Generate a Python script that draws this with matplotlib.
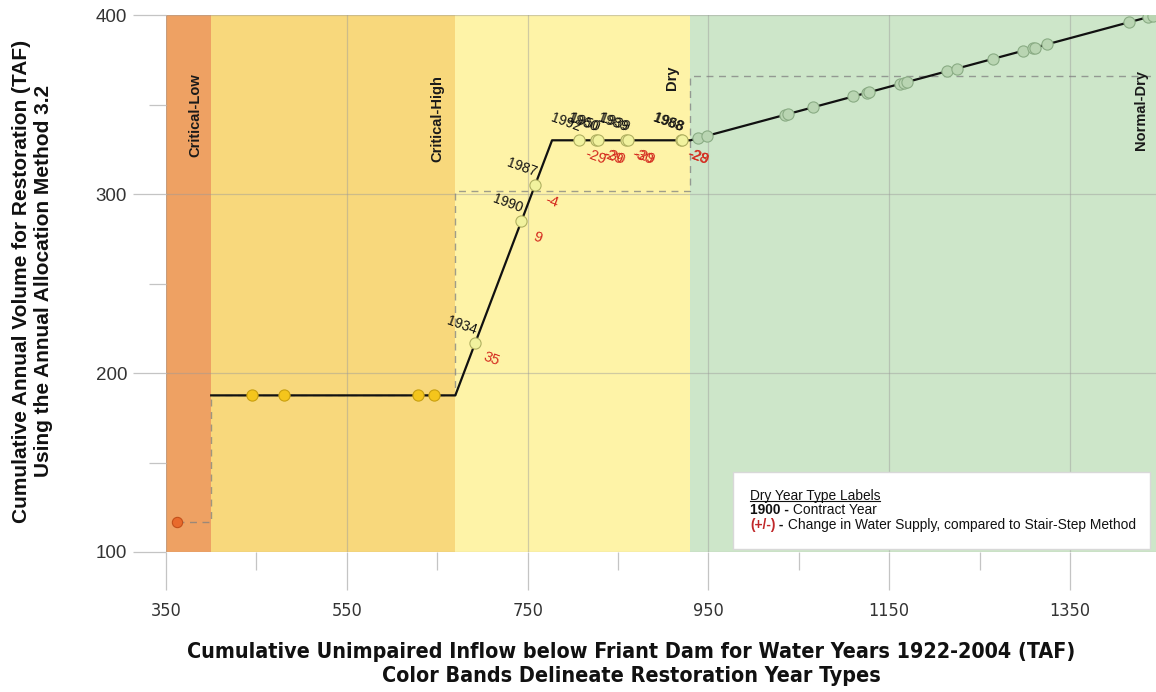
import matplotlib
matplotlib.use("Agg")
import matplotlib.pyplot as plt
from matplotlib import font_manager as fm
from matplotlib.patches import Rectangle
from matplotlib.lines import Line2D

# Restoration year-type bands (TAF of unimpaired inflow)
band_names = ["Critical-Low", "Critical-High", "Dry", "Normal-Dry"]
band_edges = [350, 400, 670, 930, 1445]
band_colors = ["#EEA163", "#F8D87C", "#FEF3A7", "#CDE6C9"]
band_label_x = [382, 650, 910, 1428]
band_label_y = [320.5, 318, 358, 324.5]

# Annual allocation method 3.2 curve
method_x = [400, 670, 777, 930, 1445]
method_y = [187.5, 187.5, 330, 330, 400]

# Stair-step method
stair_x = [362.5, 400, 400, 670, 670, 930, 930, 1445]
stair_y = [116.6, 116.6, 187.5, 187.5, 301.7, 301.7, 366, 366]

# Water years by type
cl_x = [362.5]
cl_y = [116.6]

ch_x = [445, 480.5, 629, 646.5]
ch_y = [187.5, 187.5, 187.5, 187.5]

dry_x = [692, 743, 758, 807, 826, 828, 859, 861, 920, 921]
dry_y = [217, 285, 305, 330, 330, 330, 330, 330, 330, 330]
dry_years = ["1934", "1990", "1987", "1992", "1960", "1950", "1989", "1939", "1988", "1968"]
dry_change = ["35", "9", "-4", "-29", "-29", "-30", "-30", "-29", "-28", "-29"]

nd_x = [938.5, 948.5, 1034.7, 1038, 1065.7, 1110, 1125.4, 1127.7, 1162, 1166, 1169.7,
        1214, 1225, 1264.8, 1298, 1309, 1311, 1324.6, 1415, 1436, 1442]
nd_y = [331.2, 332.5, 344.2, 344.7, 348.5, 354.5, 356.6, 356.9, 361.5, 362.1, 362.6,
        368.6, 370.1, 375.5, 380, 381.5, 381.8, 383.6, 395.9, 398.7, 399.5]

x_major = [350, 550, 750, 950, 1150, 1350]
x_minor = [450, 650, 850, 1050, 1250]
y_major = [100, 200, 300, 400]
y_minor = [150, 250, 350]

W, H = 1156, 692
SANS = ["Liberation Sans", "DejaVu Sans"]

# pick a condensed face for the x-axis texts when one is available
installed = fm.fontManager.ttflist
names = {f.name for f in installed}
if "Liberation Sans Narrow" in names:
    narrow_kw = dict(family=["Liberation Sans Narrow", "DejaVu Sans"])
    xlab_size, xtick_size = 17.5, 14.5
elif any(f.name == "DejaVu Sans" and "condensed" in str(f.stretch) for f in installed):
    narrow_kw = dict(family=["DejaVu Sans"], stretch="condensed")
    xlab_size, xtick_size = 15.4, 13
else:
    narrow_kw = dict(family=SANS)
    xlab_size, xtick_size = 16.5, 13

fig = plt.figure(figsize=(W / 100, H / 100), dpi=100)
ax = fig.add_axes([166 / W, 1 - 552 / H, (W - 166) / W, (552 - 15) / H])
ax.set_xlim(band_edges[0], band_edges[-1])
ax.set_ylim(100, 400)

for i in range(len(band_names)):
    ax.axvspan(band_edges[i], band_edges[i + 1], color=band_colors[i], zorder=0.5, lw=0)
    ax.text(band_label_x[i], band_label_y[i], band_names[i], rotation=90,
            ha="center", va="bottom", fontsize=10.5, fontweight="bold",
            family=SANS, color="#1a1a1a", zorder=5)

for s in ax.spines.values():
    s.set_visible(False)

ax.set_xticks(x_major)
ax.set_xticks(x_minor, minor=True)
ax.set_yticks(y_major)
ax.set_yticks(y_minor, minor=True)
ax.grid(True, which="major", color="#9a9a9a", alpha=0.45, lw=0.9)
ax.tick_params(axis="x", which="major", length=27, width=0.9, color="#c4c4c4",
               pad=9, labelsize=xtick_size, labelcolor="#333333")
ax.tick_params(axis="x", which="minor", length=13, width=0.9, color="#c4c4c4")
ax.tick_params(axis="y", which="major", length=24, width=0.9, color="#c4c4c4",
               pad=4, labelsize=13.5, labelcolor="#333333")
ax.tick_params(axis="y", which="minor", length=12, width=0.9, color="#c4c4c4")
for lab in ax.get_xticklabels():
    lab.set(**narrow_kw)
for lab in ax.get_yticklabels():
    lab.set_family(SANS)

# stair-step reference and allocation curve
ax.plot(stair_x, stair_y, color="#808080", lw=1.0, alpha=0.75, dashes=(5, 4), zorder=2)
ax.plot(method_x, method_y, color="#111111", lw=1.6, zorder=3)

ax.scatter(cl_x, cl_y, s=55, color="#E86A2C", edgecolor="#C4501A", lw=0.8, zorder=4)
ax.scatter(ch_x, ch_y, s=65, color="#F4C51C", edgecolor="#C9A010", lw=0.8, zorder=4)
ax.scatter(dry_x, dry_y, s=65, color="#F1F29E", edgecolor="#B0B060", lw=0.8, zorder=4)
ax.scatter(nd_x, nd_y, s=65, color="#B9D5B2", edgecolor="#8AAC84", lw=0.8, zorder=4)

for x, y, yr, ch in zip(dry_x, dry_y, dry_years, dry_change):
    ax.annotate(yr, (x, y), xytext=(-9.5, 12.5), textcoords="offset points",
                rotation=-20, ha="center", va="center", fontsize=10,
                family=SANS, color="#111111", zorder=6)
    ax.annotate(ch, (x, y), xytext=(12, -12), textcoords="offset points",
                rotation=-20, ha="center", va="center", fontsize=10.5,
                family=SANS, color="#D42A1E", zorder=6)

# legend box for label meanings
box = Rectangle(((733 - 166) / (W - 166), 3 / 537), (1150 - 733) / (W - 166), 77 / 537,
                transform=ax.transAxes, facecolor="white", edgecolor="#d8d8d8",
                lw=1.0, zorder=7)
ax.add_patch(box)

renderer = fig.canvas.get_renderer()


def seq_text(x_px, y_px, pieces):
    x = x_px
    out = []
    for txt, kw in pieces:
        t = fig.text(x / W, 1 - y_px / H, txt, ha="left", va="center",
                     fontsize=9.9, family=SANS, zorder=8, **kw)
        bb = t.get_window_extent(renderer)
        x = bb.x1
        out.append(t)
    return out


title_t = seq_text(750, 496, [("Dry Year Type Labels", {"color": "#111111"})])[0]
bb = title_t.get_window_extent(renderer)
fig.add_artist(Line2D([bb.x0 / W, bb.x1 / W], [(bb.y0 + 2) / H, (bb.y0 + 2) / H],
                      color="#111111", lw=0.8, zorder=8))
seq_text(750, 510, [("1900 -", {"fontweight": "bold", "color": "#111111"}),
                    (" Contract Year", {"color": "#111111"})])
seq_text(750, 525, [("(+/-)", {"fontweight": "bold", "color": "#C0282A"}),
                    (" -", {"fontweight": "bold", "color": "#111111"}),
                    (" Change in Water Supply, compared to Stair-Step Method",
                     {"color": "#111111"})])

fig.text(32.5 / W, 1 - 281 / H,
         "Cumulative Annual Volume for Restoration (TAF)\nUsing the Annual Allocation Method 3.2",
         rotation=90, ha="center", va="center", multialignment="center",
         fontsize=15, fontweight="bold", family=SANS, color="#111111",
         linespacing=1.22)
fig.text(631 / W, 1 - 664 / H,
         "Cumulative Unimpaired Inflow below Friant Dam for Water Years 1922-2004 (TAF)\n"
         "Color Bands Delineate Restoration Year Types",
         ha="center", va="center", multialignment="center", fontsize=xlab_size,
         fontweight="bold", color="#111111", linespacing=1.28, **narrow_kw)

fig.savefig("out.png", dpi=100)
